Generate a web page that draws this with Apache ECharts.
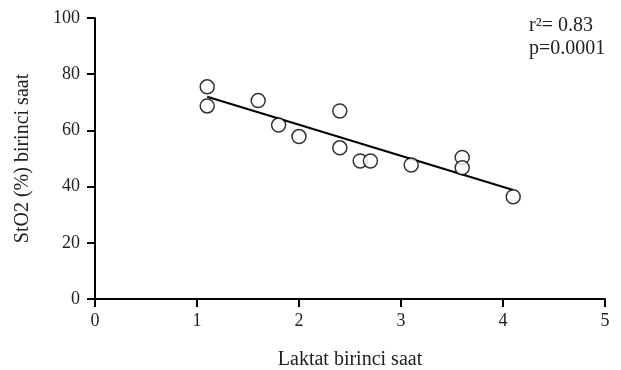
<!DOCTYPE html>
<html><head><meta charset="utf-8">
<script src="https://cdn.jsdelivr.net/npm/echarts@6/dist/echarts.min.js"></script>
<style>html,body{margin:0;padding:0;background:#fff}#c{width:621px;height:370px}</style>
</head><body><div id="c"></div>
<script>
var laktat = [1.1, 1.1, 1.6, 1.8, 2.0, 2.4, 2.4, 2.6, 2.7, 3.1, 3.6, 3.6, 4.1];
var sto2 = [75.5, 68.7, 70.6, 61.9, 57.8, 66.9, 53.8, 49.1, 49.1, 47.7, 50.4, 46.7, 36.4];
var fitX = [1.1, 4.1];
var fitY = [72.0, 38.8];
var annotations = ['r\u00b2= 0.83', 'p=0.0001'];
var xTitle = 'Laktat birinci saat';
var yTitle = 'StO2 (%) birinci saat';

var chart = echarts.init(document.getElementById('c'));
var font = 'Liberation Serif';
chart.setOption({
  animation: false,
  backgroundColor: '#fff',
  grid: {left: 95, right: 16, top: 18, bottom: 71, containLabel: false, outerBoundsMode: 'none'},
  xAxis: {
    type: 'value', min: 0, max: 5, interval: 1,
    name: xTitle, nameLocation: 'middle', nameGap: 51,
    nameTextStyle: {fontFamily: font, fontSize: 20, color: '#222'},
    axisLine: {show: true, lineStyle: {color: '#000', width: 2}},
    axisTick: {show: true, length: 8, lineStyle: {color: '#000', width: 2}},
    axisLabel: {fontFamily: font, fontSize: 18, color: '#222', margin: 13},
    splitLine: {show: false}
  },
  yAxis: {
    type: 'value', min: 0, max: 100, interval: 20,
    name: yTitle, nameLocation: 'middle', nameGap: 62,
    nameTextStyle: {fontFamily: font, fontSize: 20, color: '#222'},
    axisLine: {show: true, lineStyle: {color: '#000', width: 2}},
    axisTick: {show: true, length: 8, lineStyle: {color: '#000', width: 2}},
    axisLabel: {fontFamily: font, fontSize: 18, color: '#222', margin: 15},
    splitLine: {show: false}
  },
  graphic: [
    {type: 'text', left: 529, top: 14, style: {text: annotations.join('\n'), font: '20px "Liberation Serif"', fill: '#222', lineHeight: 23}}
  ],
  series: [
    {
      type: 'line',
      data: fitX.map(function (x, i) { return [x, fitY[i]]; }),
      showSymbol: false, symbol: 'none',
      lineStyle: {color: '#000', width: 2},
      z: 2
    },
    {
      type: 'scatter',
      data: laktat.map(function (x, i) { return [x, sto2[i]]; }),
      symbol: 'circle', symbolSize: 14,
      itemStyle: {color: '#fff', borderColor: '#000', borderWidth: 1.5},
      z: 3
    }
  ]
});
</script>
</body></html>
